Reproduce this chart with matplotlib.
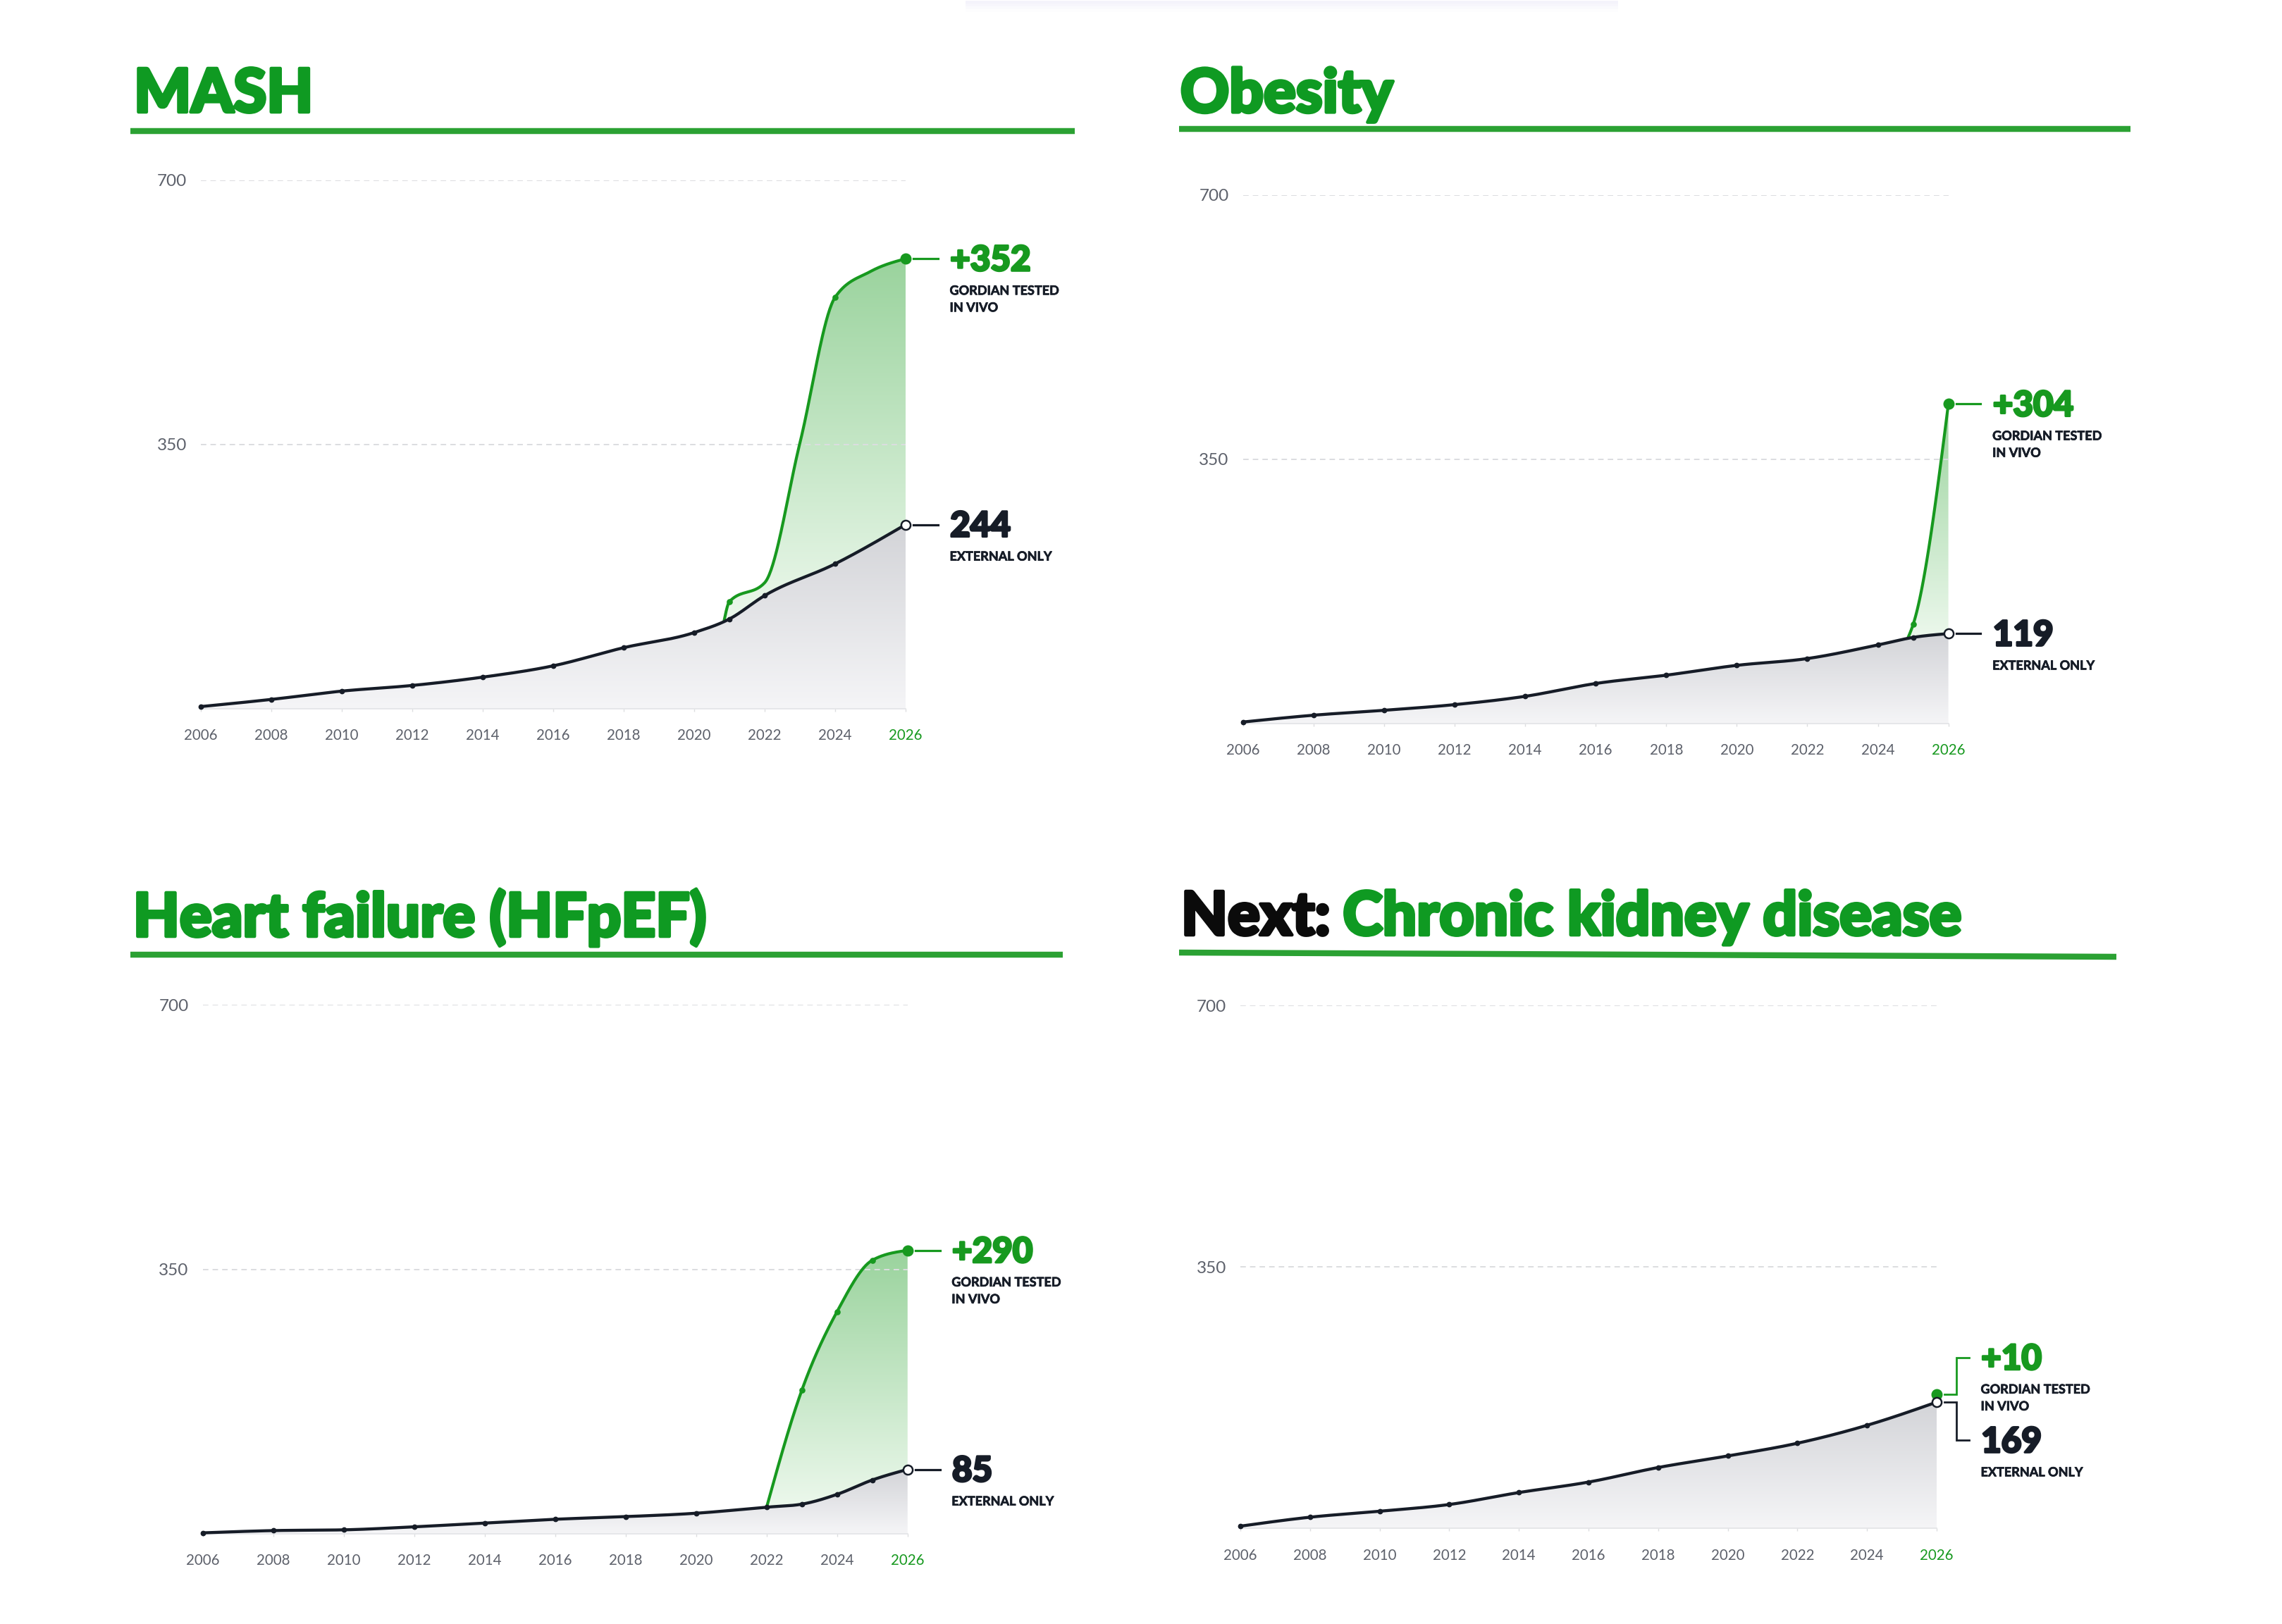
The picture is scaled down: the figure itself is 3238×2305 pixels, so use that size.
import numpy as np
import matplotlib
matplotlib.use("Agg")
import matplotlib.pyplot as plt
import matplotlib.transforms as mtransforms
import matplotlib.patheffects as pe
from matplotlib.colors import LinearSegmentedColormap
from matplotlib.lines import Line2D
from matplotlib.patches import Rectangle

plt.rcParams["font.family"] = ["Lato", "DejaVu Sans"]

GREEN = "#17991f"
TITLE_GREEN = "#0f9a22"
RULE_GREEN = "#2ba133"
INK = "#161c27"
TICK_GRAY = "#5d616b"

tick_years = list(range(2006, 2027, 2))

# MASH
mash_ext_years = [2006, 2008, 2010, 2012, 2014, 2016, 2018, 2020, 2021, 2022, 2024, 2026]
mash_ext = [3, 12.5, 23.5, 31, 42, 57, 81, 101, 119, 150, 192, 244]
mash_gt_years = [2020.85, 2021, 2022, 2023, 2024, 2025, 2026]
mash_gt = [117, 142, 167, 352, 545, 579, 596]
mash_gt_dots = [2021, 2024]

# Obesity
obes_ext_years = [2006, 2008, 2010, 2012, 2014, 2016, 2018, 2020, 2022, 2024, 2025, 2026]
obes_ext = [2, 11, 17.5, 25, 36, 53, 64, 77, 86, 104, 114, 119]
obes_gt_years = [2024.85, 2025, 2026]
obes_gt = [113, 131, 423]
obes_gt_dots = [2025]

# Heart failure (HFpEF)
hf_ext_years = [2006, 2008, 2010, 2012, 2014, 2016, 2018, 2020, 2022, 2023, 2024, 2025, 2026]
hf_ext = [1, 4, 5, 9, 14, 19, 22.5, 27, 35, 39, 52, 71, 85]
hf_gt_years = [2022, 2023, 2024, 2025, 2026]
hf_gt = [35, 190, 294, 362, 375]
hf_gt_dots = [2023, 2024, 2025]

# Chronic kidney disease
ckd_ext_years = [2006, 2008, 2010, 2012, 2014, 2016, 2018, 2020, 2022, 2024, 2026]
ckd_ext = [3, 15, 23, 32, 48, 62, 81.5, 97, 114, 138, 169]
ckd_gt_years = [2026]
ckd_gt = [179]
ckd_gt_dots = []


def monotone(xs, ys, n=40):
    # same idea as d3.curveMonotoneX
    x = np.asarray(xs, float)
    y = np.asarray(ys, float)
    if len(x) < 2:
        return x, y
    h = np.diff(x)
    s = np.diff(y) / h
    t = np.empty(len(x))
    if len(x) == 2:
        t[:] = s[0]
    else:
        for i in range(1, len(x) - 1):
            p = (s[i - 1] * h[i] + s[i] * h[i - 1]) / (h[i - 1] + h[i])
            t[i] = (np.sign(s[i - 1]) + np.sign(s[i])) * min(abs(s[i - 1]), abs(s[i]), 0.5 * abs(p))
        t[0] = (3 * s[0] - t[1]) / 2
        t[-1] = (3 * s[-1] - t[-2]) / 2
    xo, yo = [x[0]], [y[0]]
    u = np.linspace(0, 1, n)[1:]
    h00 = 2 * u**3 - 3 * u**2 + 1
    h10 = u**3 - 2 * u**2 + u
    h01 = -2 * u**3 + 3 * u**2
    h11 = u**3 - u**2
    for i in range(len(x) - 1):
        xo.extend(x[i] + u * h[i])
        yo.extend(h00 * y[i] + h10 * h[i] * t[i] + h01 * y[i + 1] + h11 * h[i] * t[i + 1])
    return np.array(xo), np.array(yo)


def gradient_fill(ax, x, lower, upper, c_top, c_bottom):
    poly = ax.fill_between(x, lower, upper, facecolor="none", edgecolor="none")
    path = poly.get_paths()[0]
    poly.remove()
    cmap = LinearSegmentedColormap.from_list("g", [c_bottom, c_top])
    grad = np.linspace(0, 1, 256).reshape(-1, 1)
    im = ax.imshow(grad, extent=[x.min(), x.max(), np.min(lower), np.max(upper)],
                   origin="lower", aspect="auto", cmap=cmap, interpolation="bilinear", zorder=1)
    im.set_clip_path(path, transform=ax.transData)


def heavy(color, w):
    return [pe.withStroke(linewidth=w, foreground=color)]


def end_label(ax, x, y, number, caption, color, dy=0, bracket=False):
    trans = (mtransforms.Affine2D().scale(1 / 72) + fig.dpi_scale_trans
             + mtransforms.ScaledTranslation(x, y, ax.transData))
    if bracket:
        ax.plot([8, 20, 20, 33], [0, 0, dy, dy], color=color, lw=2.0, transform=trans,
                clip_on=False, zorder=5, solid_joinstyle="miter")
    else:
        ax.plot([8, 33], [0, 0], color=color, lw=2.3, transform=trans, clip_on=False, zorder=5)
    ax.annotate(number, (x, y), xytext=(45.5, dy - 12.3), textcoords="offset points",
                ha="left", va="baseline", fontsize=35.5, fontweight="black", color=color,
                annotation_clip=False, path_effects=heavy(color, 2.2))
    for k, line in enumerate(caption):
        ax.annotate(line, (x, y), xytext=(45, dy - 36.8 - 17.3 * k), textcoords="offset points",
                    ha="left", va="baseline", fontsize=13, fontweight="bold", color=INK,
                    annotation_clip=False, path_effects=heavy(INK, 0.5))


def draw_panel(rect, ext_years, ext, gt_years, gt, gt_dots, bracket=False):
    ax = fig.add_axes(rect)
    xe, ye = monotone(ext_years, ext)
    gradient_fill(ax, xe, np.zeros_like(ye), ye, "#d3d4d8", "#f5f5f7")
    if len(gt_years) > 1:
        xg, yg = monotone(gt_years, gt)
        base = np.interp(xg, xe, ye)
        gradient_fill(ax, xg, base, yg, "#9ad39d", "#ecf8ec")
        ax.plot(xg, yg, color=GREEN, lw=3.0, zorder=3, clip_on=False, solid_capstyle="round")
        dot_vals = [v for yr, v in zip(gt_years, gt) if yr in gt_dots]
        ax.plot(gt_dots, dot_vals, "o", ms=5.2, color=GREEN, zorder=5)
    ax.plot(xe, ye, color=INK, lw=3.1, zorder=4, clip_on=False, solid_capstyle="round")
    ax.plot(ext_years[:-1], ext[:-1], "o", ms=4.6, color=INK, zorder=5, clip_on=False)
    ax.plot(gt_years[-1], gt[-1], "o", ms=10.5, color=GREEN, zorder=6, clip_on=False)
    ax.plot(ext_years[-1], ext[-1], "o", ms=9.5, mfc="white", mec=INK, mew=1.8,
            zorder=7, clip_on=False)

    gain = f"+{gt[-1] - ext[-1]:.0f}"
    total = f"{ext[-1]:.0f}"
    end_label(ax, gt_years[-1], gt[-1], gain, ["GORDIAN TESTED", "IN VIVO"], GREEN,
              dy=38 if bracket else 0, bracket=bracket)
    end_label(ax, ext_years[-1], ext[-1], total, ["EXTERNAL ONLY"], INK,
              dy=-39 if bracket else 0, bracket=bracket)

    ax.set_xlim(2006, 2026)
    ax.set_ylim(0, 700)
    for side in ["top", "right", "left"]:
        ax.spines[side].set_visible(False)
    ax.spines["bottom"].set_color("#e2e3e6")
    ax.spines["bottom"].set_linewidth(1.2)
    ax.spines["bottom"].set_zorder(2)
    ax.set_xticks(tick_years)
    ax.set_xticklabels([str(y) for y in tick_years])
    ax.tick_params(axis="x", length=2.9, width=1, color="#dcdde0", pad=17.5,
                   labelsize=14.8, labelcolor=TICK_GRAY)
    ax.get_xticklabels()[-1].set_color(GREEN)
    ax.set_yticks([350, 700])
    ax.set_yticklabels(["350", "700"])
    ax.tick_params(axis="y", length=0, pad=14.4, labelsize=17.5, labelcolor=TICK_GRAY)
    ax.yaxis.grid(True, color="#dcdde0", lw=1.4, ls=(0, (4, 3)))
    ax.xaxis.grid(False)
    return ax


fig = plt.figure(figsize=(32.38, 23.05), dpi=100)

# faint card shadow at the very top
for k, c in enumerate(["#f4f3fb", "#f7f6fc", "#fafafd", "#fdfdfe"]):
    fig.add_artist(Rectangle((1370 / 3238, 1 - (5 + 4 * k) / 2305), 926 / 3238, 4 / 2305,
                             transform=fig.transFigure, facecolor=c, edgecolor="none"))

draw_panel([0.08805, 0.56352, 0.30880, 0.32555], mash_ext_years, mash_ext,
           mash_gt_years, mash_gt, mash_gt_dots)
draw_panel([0.54472, 0.55449, 0.30908, 0.32555], obes_ext_years, obes_ext,
           obes_gt_years, obes_gt, obes_gt_dots)
draw_panel([0.08888, 0.05566, 0.30883, 0.32555], hf_ext_years, hf_ext,
           hf_gt_years, hf_gt, hf_gt_dots)
draw_panel([0.54355, 0.05887, 0.30512, 0.32204], ckd_ext_years, ckd_ext,
           ckd_gt_years, ckd_gt, ckd_gt_dots, bracket=True)

# panel titles
title_kw = dict(fontsize=61.5, fontweight="black", va="baseline", ha="left")
fig.text(0.05868, 0.93102, "MASH", color=TITLE_GREEN,
         path_effects=heavy(TITLE_GREEN, 3.3), **title_kw)
fig.text(0.51729, 0.93089, "Obesity", color=TITLE_GREEN,
         path_effects=heavy(TITLE_GREEN, 3.3), **title_kw)
fig.text(0.05834, 0.42343, "Heart failure (HFpEF)", color=TITLE_GREEN,
         path_effects=heavy(TITLE_GREEN, 3.3), **title_kw)
nxt = fig.text(0.51760, 0.42430, "Next:", color="#0b0b0b",
               path_effects=heavy("#0b0b0b", 3.3), **title_kw)
fig.axes[-1].annotate("Chronic kidney disease", xy=(1, 0), xycoords=nxt, xytext=(13, 0),
                      textcoords="offset points", fontsize=61.5, fontweight="black",
                      va="bottom", ha="left", color=TITLE_GREEN, annotation_clip=False,
                      path_effects=heavy(TITLE_GREEN, 3.3))

# green rules under the titles
rules = [((0.05713, 0.47112), (0.91931, 0.91931)),
         ((0.51668, 0.93351), (0.92048, 0.92048)),
         ((0.05713, 0.46572), (0.41232, 0.41232)),
         ((0.51668, 0.92742), (0.41345, 0.41085))]
for xs, ys in rules:
    fig.add_artist(Line2D(xs, ys, transform=fig.transFigure, color=RULE_GREEN,
                          lw=6.1, solid_capstyle="butt"))

fig.savefig("out.png", dpi=100, facecolor="white")
